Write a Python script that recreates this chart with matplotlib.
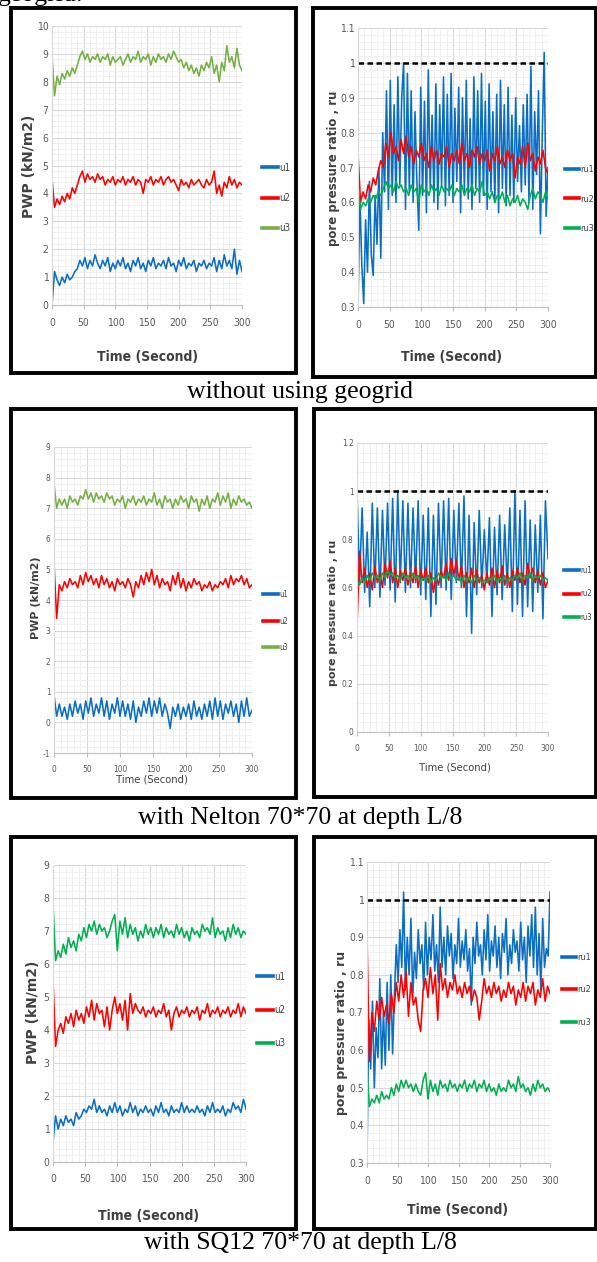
import numpy as np
import matplotlib
matplotlib.use("Agg")
import matplotlib.pyplot as plt
from matplotlib.patches import Rectangle
from matplotlib.ticker import MultipleLocator, FuncFormatter

plt.rcParams['font.family'] = ['DejaVu Sans']
plt.rcParams['font.stretch'] = 'condensed'

W, H = 597, 1262

BLUE = '#0a6fc2'
RED = '#ff0000'
GREEN_LIGHT = '#74b043'
GREEN = '#00b050'

ru_limit = 1.0

# ---- without geogrid : PWP ----
u1_a = [0.0, 1.2, 0.9, 0.7, 1.0, 0.8, 1.1, 0.9, 1.0, 1.2, 1.3, 1.6, 1.4, 1.7, 1.3, 1.6, 1.4, 1.8, 1.5, 1.3,
        1.6, 1.4, 1.7, 1.2, 1.5, 1.3, 1.6, 1.4, 1.7, 1.3, 1.5, 1.2, 1.6, 1.4, 1.7, 1.3, 1.5, 1.2, 1.6, 1.4,
        1.7, 1.3, 1.5, 1.4, 1.6, 1.3, 1.7, 1.4, 1.5, 1.2, 1.6, 1.4, 1.7, 1.3, 1.5, 1.4, 1.6, 1.2, 1.5, 1.4,
        1.6, 1.3, 1.5, 1.4, 1.7, 1.2, 1.6, 1.3, 1.8, 1.4, 1.6, 1.3, 2.0, 1.1, 1.6, 1.2]
u2_a = [4.5, 3.5, 3.8, 3.6, 3.9, 3.7, 4.0, 3.8, 4.2, 4.0, 4.3, 4.6, 4.8, 4.4, 4.7, 4.5, 4.6, 4.4, 4.7, 4.5,
        4.6, 4.3, 4.5, 4.4, 4.6, 4.3, 4.5, 4.4, 4.6, 4.3, 4.5, 4.4, 4.6, 4.3, 4.5, 4.4, 4.0, 4.5, 4.4, 4.6,
        4.3, 4.5, 4.4, 4.6, 4.3, 4.5, 4.6, 4.4, 4.5, 4.3, 4.1, 4.5, 4.3, 4.4, 4.2, 4.5, 4.3, 4.4, 4.5, 4.3,
        4.2, 4.5, 4.3, 4.4, 4.8, 4.0, 4.3, 3.9, 4.4, 4.2, 4.6, 4.3, 4.5, 4.2, 4.4, 4.3]
u3_a = [8.9, 7.5, 8.2, 7.9, 8.3, 8.1, 8.4, 8.2, 8.5, 8.3, 8.6, 8.9, 9.1, 8.8, 9.0, 8.7, 8.9, 8.8, 9.0, 8.7,
        8.9, 8.8, 9.0, 8.6, 8.9, 8.7, 8.8, 8.9, 8.6, 8.8, 9.0, 8.7, 8.9, 8.8, 9.1, 8.7, 8.9, 8.8, 9.0, 8.6,
        8.9, 8.7, 9.0, 8.8, 8.9, 8.7, 9.0, 8.8, 9.1, 8.9, 8.7, 8.8, 8.5, 8.7, 8.4, 8.6, 8.3, 8.5, 8.2, 8.6,
        8.4, 8.7, 8.5, 8.9, 8.3, 8.6, 8.0, 8.7, 8.4, 9.3, 8.7, 8.9, 8.5, 9.2, 8.6, 8.4]

# ---- without geogrid : ru ----
ru1_a = [0.30, 0.62, 0.42, 0.31, 0.55, 0.40, 0.66, 0.45, 0.39, 0.62, 0.48, 0.70, 0.44, 0.80, 0.63, 0.92, 0.58,
         0.95, 0.62, 0.88, 0.60, 0.96, 0.65, 0.90, 1.00, 0.58, 0.97, 0.63, 0.92, 0.60, 0.86, 0.66, 0.52, 0.93,
         0.62, 0.89, 0.57, 0.98, 0.64, 0.85, 0.60, 0.94, 0.58, 0.88, 0.65, 0.96, 0.59, 0.91, 0.62, 0.97, 0.60,
         0.87, 0.66, 0.93, 0.57, 0.90, 0.63, 0.95, 0.61, 0.84, 0.58, 0.96, 0.64, 0.92, 0.60, 0.97, 0.62, 0.89,
         0.58, 0.94, 0.63, 0.86, 0.60, 0.91, 0.57, 0.95, 0.64, 0.88, 0.59, 0.93, 0.62, 0.85, 0.60, 0.90, 0.66,
         0.82, 0.63, 0.88, 0.65, 0.91, 0.60, 0.99, 0.58, 0.86, 0.68, 0.92, 0.51, 0.80, 1.03, 0.56, 0.70]
ru2_a = [0.74, 0.60, 0.63, 0.61, 0.65, 0.63, 0.67, 0.65, 0.69, 0.72, 0.70, 0.77, 0.73, 0.80, 0.74, 0.76, 0.72,
         0.78, 0.74, 0.79, 0.73, 0.76, 0.71, 0.75, 0.73, 0.77, 0.72, 0.74, 0.70, 0.76, 0.72, 0.75, 0.71, 0.74,
         0.73, 0.76, 0.70, 0.74, 0.72, 0.75, 0.71, 0.77, 0.72, 0.74, 0.70, 0.75, 0.73, 0.76, 0.71, 0.74, 0.72,
         0.75, 0.69, 0.74, 0.72, 0.76, 0.71, 0.73, 0.70, 0.75, 0.72, 0.74, 0.67, 0.73, 0.71, 0.76, 0.70, 0.77,
         0.72, 0.74, 0.69, 0.73, 0.71, 0.75, 0.70, 0.68]
ru3_a = [0.65, 0.58, 0.60, 0.59, 0.61, 0.60, 0.62, 0.61, 0.63, 0.62, 0.64, 0.66, 0.64, 0.65, 0.63, 0.66, 0.64,
         0.65, 0.63, 0.64, 0.62, 0.65, 0.63, 0.64, 0.60, 0.65, 0.63, 0.64, 0.62, 0.65, 0.63, 0.64, 0.62, 0.65,
         0.63, 0.64, 0.63, 0.65, 0.62, 0.64, 0.63, 0.65, 0.62, 0.64, 0.63, 0.65, 0.62, 0.64, 0.63, 0.66, 0.62,
         0.63, 0.61, 0.63, 0.60, 0.62, 0.61, 0.63, 0.60, 0.62, 0.59, 0.61, 0.60, 0.62, 0.59, 0.61, 0.60, 0.58,
         0.62, 0.64, 0.61, 0.63, 0.62, 0.60, 0.63, 0.61]

# ---- Nelton 70*70 : PWP ----
u1_b = [0.9, 0.2, 0.6, 0.2, 0.5, 0.1, 0.6, 0.2, 0.7, 0.3, 0.6, 0.1, 0.7, 0.3, 0.8, 0.2, 0.6, 0.3, 0.8, 0.2,
        0.7, 0.1, 0.6, 0.3, 0.8, 0.2, 0.7, 0.2, 0.6, 0.1, 0.7, 0.0, 0.5, 0.2, 0.7, 0.3, 0.8, 0.2, 0.7, 0.3,
        0.8, 0.2, 0.6, 0.3, -0.2, 0.5, 0.2, 0.6, 0.1, 0.5, 0.2, 0.6, 0.1, 0.7, 0.2, 0.5, 0.1, 0.6, 0.2, 0.7,
        0.1, 0.8, 0.2, 0.7, 0.1, 0.6, 0.3, 0.7, 0.2, 0.6, 0.0, 0.7, 0.2, 0.8, 0.2, 0.4]
u2_b = [5.2, 3.4, 4.5, 4.3, 4.6, 4.4, 4.7, 4.5, 4.6, 4.4, 4.8, 4.5, 4.9, 4.6, 4.8, 4.5, 4.7, 4.4, 4.8, 4.5,
        4.7, 4.4, 4.6, 4.3, 4.7, 4.5, 4.6, 4.4, 4.7, 4.5, 4.1, 4.6, 4.4, 4.8, 4.5, 4.9, 4.6, 5.0, 4.5, 4.8,
        4.4, 4.7, 4.5, 4.6, 4.3, 4.8, 4.5, 4.9, 4.4, 4.7, 4.3, 4.6, 4.4, 4.7, 4.5, 4.6, 4.3, 4.5, 4.4, 4.6,
        4.3, 4.5, 4.4, 4.6, 4.5, 4.7, 4.4, 4.8, 4.5, 4.7, 4.6, 4.8, 4.5, 4.7, 4.4, 4.5]
u3_b = [7.8, 7.0, 7.3, 7.1, 7.3, 7.0, 7.4, 7.2, 7.3, 7.1, 7.4, 7.3, 7.6, 7.3, 7.5, 7.2, 7.5, 7.3, 7.4, 7.2,
        7.5, 7.3, 7.4, 7.1, 7.3, 7.2, 7.4, 7.0, 7.3, 7.2, 7.4, 7.1, 7.3, 7.2, 7.4, 7.1, 7.3, 7.2, 7.5, 7.1,
        7.3, 7.0, 7.4, 7.2, 7.3, 7.0, 7.3, 7.1, 7.4, 7.2, 7.3, 7.0, 7.4, 7.2, 7.3, 6.9, 7.3, 7.1, 7.4, 7.0,
        7.3, 7.2, 7.5, 7.1, 7.4, 7.2, 7.5, 7.0, 7.3, 7.1, 7.4, 7.2, 7.3, 7.1, 7.2, 7.0]

# ---- Nelton 70*70 : ru ----
ru1_b = [1.00, 0.62, 0.93, 0.58, 0.83, 0.52, 0.95, 0.60, 0.93, 0.56, 0.92, 0.61, 0.95, 0.59, 0.97, 0.54, 1.00,
         0.62, 0.96, 0.58, 0.95, 0.60, 0.93, 0.62, 0.96, 0.57, 0.90, 0.55, 0.93, 0.48, 0.90, 0.53, 0.95, 0.60,
         0.96, 0.59, 0.97, 0.55, 0.92, 0.62, 0.95, 0.60, 0.98, 0.48, 0.90, 0.41, 0.87, 0.57, 0.92, 0.60, 0.84,
         0.62, 0.89, 0.48, 0.85, 0.57, 0.90, 0.55, 0.86, 0.60, 0.93, 0.50, 1.00, 0.53, 0.92, 0.48, 0.96, 0.52,
         0.88, 0.50, 0.86, 0.58, 0.90, 0.47, 0.96, 0.72]
ru2_b = [0.44, 0.75, 0.62, 0.68, 0.60, 0.66, 0.59, 0.69, 0.62, 0.66, 0.60, 0.70, 0.64, 0.71, 0.62, 0.68, 0.60,
         0.67, 0.63, 0.68, 0.61, 0.66, 0.62, 0.69, 0.60, 0.67, 0.63, 0.68, 0.62, 0.66, 0.58, 0.65, 0.61, 0.67,
         0.64, 0.70, 0.63, 0.72, 0.65, 0.71, 0.63, 0.69, 0.60, 0.66, 0.62, 0.68, 0.60, 0.67, 0.62, 0.65, 0.59,
         0.66, 0.61, 0.68, 0.60, 0.67, 0.62, 0.69, 0.61, 0.66, 0.60, 0.67, 0.63, 0.68, 0.62, 0.66, 0.61, 0.70,
         0.64, 0.68, 0.62, 0.67, 0.61, 0.66, 0.60, 0.63]
ru3_b = [0.63, 0.61, 0.64, 0.62, 0.65, 0.63, 0.66, 0.64, 0.65, 0.63, 0.66, 0.64, 0.67, 0.65, 0.66, 0.64, 0.65,
         0.63, 0.66, 0.64, 0.65, 0.63, 0.66, 0.64, 0.65, 0.62, 0.64, 0.63, 0.65, 0.62, 0.64, 0.63, 0.66, 0.64,
         0.65, 0.63, 0.66, 0.64, 0.65, 0.63, 0.64, 0.62, 0.65, 0.63, 0.64, 0.62, 0.65, 0.63, 0.64, 0.62, 0.63,
         0.62, 0.64, 0.63, 0.65, 0.62, 0.64, 0.63, 0.65, 0.62, 0.64, 0.63, 0.65, 0.64, 0.66, 0.63, 0.65, 0.64,
         0.66, 0.63, 0.65, 0.64, 0.65, 0.63, 0.64, 0.63]

# ---- SQ12 70*70 : PWP ----
u1_c = [0.6, 1.4, 1.0, 1.3, 1.1, 1.4, 1.2, 1.3, 1.1, 1.5, 1.3, 1.4, 1.6, 1.5, 1.7, 1.6, 1.9, 1.5, 1.7, 1.5,
        1.6, 1.4, 1.7, 1.5, 1.8, 1.5, 1.7, 1.4, 1.6, 1.5, 1.8, 1.5, 1.7, 1.4, 1.6, 1.5, 1.7, 1.5, 1.6, 1.4,
        1.7, 1.5, 1.8, 1.5, 1.6, 1.4, 1.7, 1.5, 1.6, 1.5, 1.8, 1.5, 1.7, 1.5, 1.6, 1.5, 1.7, 1.5, 1.6, 1.4,
        1.7, 1.5, 1.8, 1.5, 1.6, 1.5, 1.7, 1.4, 1.6, 1.5, 1.8, 1.6, 1.7, 1.5, 1.9, 1.6]
u2_c = [5.5, 3.5, 4.0, 4.2, 3.9, 4.4, 4.2, 4.5, 4.1, 4.6, 4.3, 4.5, 4.2, 4.7, 4.4, 4.9, 4.3, 4.8, 4.5, 4.6,
        4.1, 4.7, 4.0, 4.6, 5.0, 4.5, 4.8, 4.3, 4.9, 4.0, 5.1, 4.5, 4.8, 4.6, 4.5, 4.7, 4.4, 4.6, 4.5, 4.7,
        4.4, 4.6, 4.5, 4.8, 4.4, 4.6, 4.0, 4.5, 4.7, 4.4, 4.6, 4.5, 4.7, 4.4, 4.6, 4.5, 4.7, 4.3, 4.6, 4.5,
        4.8, 4.4, 4.6, 4.5, 4.7, 4.4, 4.6, 4.5, 4.7, 4.4, 4.6, 4.5, 4.8, 4.4, 4.7, 4.5]
u3_c = [7.8, 6.1, 6.4, 6.2, 6.6, 6.3, 6.8, 6.5, 6.7, 6.4, 6.9, 6.7, 7.1, 6.8, 7.2, 7.0, 7.3, 6.9, 7.2, 7.0,
        7.1, 6.8, 7.0, 7.3, 7.5, 6.4, 7.3, 6.9, 7.4, 6.8, 7.2, 6.9, 7.1, 6.7, 7.0, 6.8, 7.2, 6.9, 7.1, 6.8,
        7.1, 6.9, 7.2, 6.8, 7.1, 6.9, 7.0, 6.8, 7.2, 6.9, 7.1, 6.8, 7.0, 6.7, 7.1, 6.9, 7.0, 6.8, 7.2, 7.0,
        7.1, 6.9, 7.4, 6.8, 7.1, 6.9, 7.0, 6.7, 7.1, 6.8, 7.2, 6.9, 7.1, 6.8, 7.0, 6.9]

# ---- SQ12 70*70 : ru ----
ru1_c = [0.32, 0.68, 0.55, 0.73, 0.50, 0.66, 0.58, 0.79, 0.55, 0.70, 0.56, 0.78, 0.60, 0.80, 0.59, 0.75, 0.88,
         0.78, 0.92, 0.82, 1.02, 0.76, 0.90, 0.80, 0.95, 0.74, 0.86, 0.79, 0.92, 0.83, 0.88, 0.76, 0.94, 0.80,
         0.90, 0.84, 0.96, 0.81, 0.88, 0.78, 0.98, 0.82, 0.90, 0.80, 0.93, 0.85, 0.91, 0.79, 0.88, 0.83, 0.95,
         0.82, 0.89, 0.84, 0.92, 0.81, 0.87, 0.72, 0.90, 0.83, 0.94, 0.85, 0.88, 0.80, 0.92, 0.84, 0.96, 0.81,
         0.89, 0.85, 0.93, 0.82, 0.90, 0.79, 0.91, 0.86, 0.95, 0.80, 0.88, 0.83, 0.92, 0.86, 0.89, 0.81, 0.94,
         0.84, 0.90, 0.78, 0.93, 0.85, 0.96, 0.82, 0.98, 0.80, 0.91, 0.76, 0.95, 0.82, 0.87, 0.85, 1.02]
ru2_c = [0.90, 0.57, 0.70, 0.65, 0.73, 0.68, 0.74, 0.69, 0.72, 0.67, 0.75, 0.70, 0.78, 0.73, 0.80, 0.74, 0.81,
         0.69, 0.78, 0.72, 0.74, 0.68, 0.65, 0.76, 0.79, 0.74, 0.82, 0.75, 0.80, 0.68, 0.83, 0.76, 0.79, 0.74,
         0.78, 0.76, 0.80, 0.75, 0.77, 0.74, 0.78, 0.75, 0.77, 0.73, 0.76, 0.74, 0.68, 0.73, 0.79, 0.75, 0.77,
         0.74, 0.78, 0.75, 0.77, 0.73, 0.76, 0.74, 0.78, 0.75, 0.77, 0.72, 0.76, 0.74, 0.78, 0.73, 0.77, 0.75,
         0.78, 0.72, 0.76, 0.74, 0.79, 0.73, 0.77, 0.75]
ru3_c = [0.55, 0.45, 0.47, 0.46, 0.48, 0.46, 0.49, 0.47, 0.48, 0.47, 0.50, 0.48, 0.51, 0.49, 0.52, 0.50, 0.52,
         0.50, 0.51, 0.49, 0.51, 0.49, 0.48, 0.52, 0.54, 0.47, 0.52, 0.49, 0.51, 0.48, 0.52, 0.50, 0.51, 0.49,
         0.52, 0.50, 0.51, 0.49, 0.51, 0.50, 0.52, 0.49, 0.51, 0.50, 0.52, 0.49, 0.51, 0.50, 0.52, 0.49, 0.51,
         0.49, 0.50, 0.48, 0.51, 0.49, 0.50, 0.49, 0.52, 0.50, 0.51, 0.49, 0.53, 0.50, 0.51, 0.49, 0.50, 0.48,
         0.51, 0.49, 0.52, 0.50, 0.51, 0.49, 0.50, 0.49]

captions = ['without using geogrid', 'with Nelton 70*70 at depth L/8', 'with SQ12 70*70 at depth L/8']


def fig_rect(x0, y0, x1, y1):
    # pixel box (top-left origin) -> figure fraction [l, b, w, h]
    return [x0 / W, 1 - y1 / H, (x1 - x0) / W, (y1 - y0) / H]


def frame(fig, x0, y0, x1, y1):
    l, b, w, h = fig_rect(x0, y0, x1, y1)
    fig.add_artist(Rectangle((l, b), w, h, transform=fig.transFigure,
                             fill=False, ec='black', lw=2.8))


def setup(ax, ylim, ymaj, ymin, fs):
    ax.set_xlim(0, 300)
    ax.set_ylim(*ylim)
    ax.xaxis.set_major_locator(MultipleLocator(50))
    ax.xaxis.set_minor_locator(MultipleLocator(10))
    ax.yaxis.set_major_locator(MultipleLocator(ymaj))
    ax.yaxis.set_minor_locator(MultipleLocator(ymin))
    ax.yaxis.set_major_formatter(FuncFormatter(lambda v, p: f'{round(v, 2):g}'))
    ax.grid(which='major', color='#d9d9d9', lw=0.8)
    ax.grid(which='minor', color='#eeeeee', lw=0.6)
    ax.set_axisbelow(True)
    for s in ['top', 'right']:
        ax.spines[s].set_visible(False)
    ax.spines['left'].set_color('#d9d9d9')
    ax.spines['bottom'].set_color('#bfbfbf')
    ax.tick_params(which='both', colors='#595959', labelsize=fs, length=0, pad=2.5)
    ax.tick_params(axis='x', which='major', length=3, color='#bfbfbf', pad=6)


def series(ax, data, colors, labels, leg_xy, fs, spacing, hl):
    for vals, c, lab in zip(data, colors, labels):
        t = np.linspace(0, 300, len(vals))
        ax.plot(t, vals, color=c, lw=1.15, label=lab)
    leg = ax.legend(loc='center left', bbox_to_anchor=(leg_xy[0] / W, 1 - leg_xy[1] / H),
                    bbox_transform=ax.figure.transFigure, frameon=False, fontsize=fs,
                    handlelength=hl, handletextpad=0.15, labelspacing=spacing,
                    borderpad=0, borderaxespad=0)
    for ln in leg.get_lines():
        ln.set_linewidth(2.6)
    for tx in leg.get_texts():
        tx.set_color('#404040')


fig = plt.figure(figsize=(W / 100, H / 100), dpi=100)

# panel frames
frame(fig, 11, 8, 296, 373)
frame(fig, 313, 8, 596, 377)
frame(fig, 11, 409, 296, 798)
frame(fig, 314, 409, 596, 797)
frame(fig, 11, 837, 296, 1229)
frame(fig, 314, 837, 596, 1229)

pwp_lab = 'PWP (kN/m2)'
ru_lab = 'pore pressure ratio , ru'
time_lab = 'Time (Second)'
u_names = ['u1', 'u2', 'u3']
ru_names = ['ru1', 'ru2', 'ru3']
bold_lab = dict(ha='center', va='center', fontweight='bold', color='#404040')
wide_lab = dict(ha='center', va='center', rotation=90, fontweight='bold', color='#404040', stretch='normal')

# row 1
ax = fig.add_axes(fig_rect(52, 26, 242, 305))
setup(ax, (0, 10), 1, 0.2, 7.5)
series(ax, [u1_a, u2_a, u3_a], [BLUE, RED, GREEN_LIGHT], u_names, (262, 198), 7, 2.1, 1.6)
fig.text(148 / W, 1 - 357 / H, time_lab, fontsize=10, **bold_lab)
fig.text(29 / W, 1 - 166 / H, pwp_lab, fontsize=10, **wide_lab)

ax = fig.add_axes(fig_rect(358, 28, 548, 307))
setup(ax, (0.3, 1.1), 0.1, 0.02, 7.5)
series(ax, [ru1_a, ru2_a, ru3_a], [BLUE, RED, GREEN], ru_names, (565, 199), 6.5, 2.3, 1.5)
ax.axhline(ru_limit, color='black', lw=1.8, ls=(0, (2.2, 1.4)))
fig.text(452 / W, 1 - 357 / H, time_lab, fontsize=10, **bold_lab)
fig.text(333 / W, 1 - 168 / H, ru_lab, fontsize=8.5, **wide_lab)

# row 2
ax = fig.add_axes(fig_rect(54, 447, 252, 753))
setup(ax, (-1, 9), 1, 0.2, 6)
series(ax, [u1_b, u2_b, u3_b], [BLUE, RED, GREEN_LIGHT], u_names, (263, 621), 5.5, 2.3, 2.0)
fig.text(152 / W, 1 - 780 / H, time_lab, fontsize=8, ha='center', va='center', color='#404040')
fig.text(36 / W, 1 - 598 / H, pwp_lab, fontsize=8, **wide_lab)

ax = fig.add_axes(fig_rect(357, 443, 548, 732))
setup(ax, (0, 1.2), 0.2, 0.04, 6)
series(ax, [ru1_b, ru2_b, ru3_b], [BLUE, RED, GREEN], ru_names, (564, 594), 5.5, 1.9, 2.0)
ax.axhline(ru_limit, color='black', lw=1.8, ls=(0, (2.2, 1.4)))
fig.text(455 / W, 1 - 767 / H, time_lab, fontsize=8, ha='center', va='center', color='#404040')
fig.text(333 / W, 1 - 613 / H, ru_lab, fontsize=8, **wide_lab)

# row 3
ax = fig.add_axes(fig_rect(53, 865, 246, 1162))
setup(ax, (0, 9), 1, 0.2, 7.5)
series(ax, [u1_c, u2_c, u3_c], [BLUE, RED, GREEN], u_names, (257, 1010), 7, 2.4, 1.6)
fig.text(149 / W, 1 - 1216 / H, time_lab, fontsize=10, **bold_lab)
fig.text(33 / W, 1 - 1012 / H, pwp_lab, fontsize=10, **wide_lab)

ax = fig.add_axes(fig_rect(367, 862, 550, 1163))
setup(ax, (0.3, 1.1), 0.1, 0.02, 7.5)
series(ax, [ru1_c, ru2_c, ru3_c], [BLUE, RED, GREEN], ru_names, (562, 990), 6.5, 2.6, 1.5)
ax.axhline(ru_limit, color='black', lw=1.8, ls=(0, (2.2, 1.4)))
fig.text(458 / W, 1 - 1210 / H, time_lab, fontsize=10, **bold_lab)
fig.text(341 / W, 1 - 1033 / H, ru_lab, fontsize=9, **wide_lab)

# captions under each row
for cap, yc in zip(captions, [392, 818, 1243]):
    fig.text(0.503, 1 - yc / H, cap, ha='center', va='center', fontsize=18.5, family='Liberation Serif')
fig.text(-2 / W, 1 - 0.5 / H, 'geogrid:', ha='left', va='baseline', fontsize=18.5, family='Liberation Serif')

fig.savefig('out.png', dpi=100)
